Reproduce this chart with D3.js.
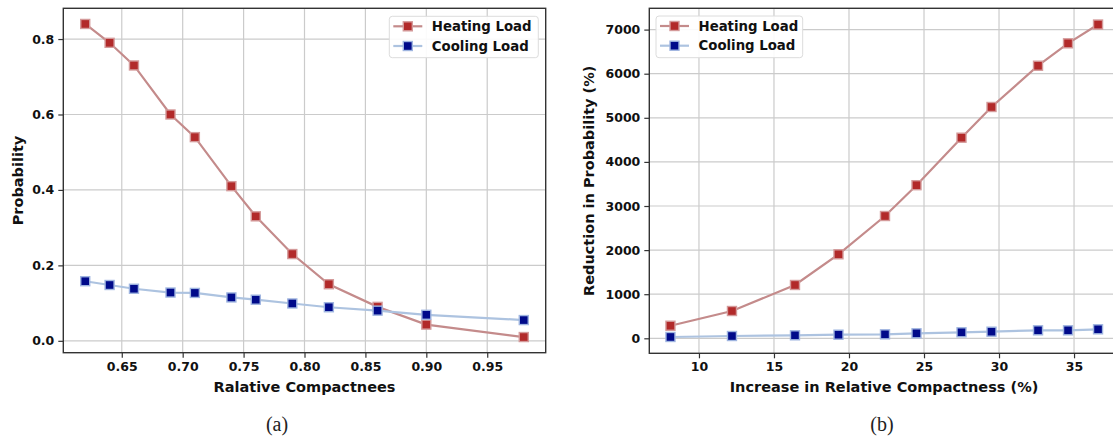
<!DOCTYPE html>
<html>
<head>
<meta charset="utf-8">
<script src="https://cdn.jsdelivr.net/npm/d3@7"></script>
<style>
  html, body { margin: 0; padding: 0; background: #fff; }
  svg { display: block; }
  text { font-family: "DejaVu Sans", sans-serif; fill: #111; }
  text.caption { font-family: "Liberation Serif", "DejaVu Serif", serif; fill: #222; }
</style>
</head>
<body>
<svg id="chart" width="1113" height="439"></svg>
<script>
// ---------- Data ----------
// Panel (a)
const compactness = [0.62, 0.64, 0.66, 0.69, 0.71, 0.74, 0.76, 0.79, 0.82, 0.86, 0.90, 0.98];
const heatingProb = [0.84, 0.79, 0.73, 0.60, 0.54, 0.41, 0.33, 0.23, 0.15, 0.09, 0.043, 0.01];
const coolingProb = [0.158, 0.148, 0.138, 0.128, 0.127, 0.115, 0.109, 0.099, 0.089, 0.080, 0.069, 0.055];
const aXTicks = [0.65, 0.70, 0.75, 0.80, 0.85, 0.90, 0.95];
const aYTicks = [0.0, 0.2, 0.4, 0.6, 0.8];

// Panel (b)
const increasePct = [8.1, 12.2, 16.4, 19.3, 22.4, 24.5, 27.5, 29.5, 32.6, 34.6, 36.6];
const heatingRed = [285, 619, 1209, 1905, 2773, 3472, 4549, 5245, 6181, 6689, 7115];
const coolingRed = [30, 52, 68, 82, 90, 113, 136, 150, 181, 181, 204];
const bXTicks = [10, 15, 20, 25, 30, 35];
const bYTicks = [0, 1000, 2000, 3000, 4000, 5000, 6000, 7000];

const seriesNames = ["Heating Load", "Cooling Load"];

// ---------- Styles ----------
const heatStyle = { line: "#c48b8b", face: "#b22a2a", edge: "#d49a9a" };
const coolStyle = { line: "#adc3e0", face: "#000a8a", edge: "#9fb5e0" };

const svg = d3.select("#chart");

function panel(opts) {
  const g = svg.append("g");
  const x = d3.scaleLinear().domain(opts.xDomain).range([opts.left, opts.right]);
  const y = d3.scaleLinear().domain(opts.yDomain).range([opts.bottom, opts.top]);

  const clipId = "clip" + opts.id;
  svg.append("clipPath").attr("id", clipId)
    .append("rect").attr("x", opts.left).attr("y", opts.top)
    .attr("width", opts.right - opts.left).attr("height", opts.bottom - opts.top);

  // grid
  const grid = g.append("g").attr("clip-path", `url(#${clipId})`);
  grid.selectAll("line.vx").data(opts.xTicks).join("line")
    .attr("x1", d => x(d)).attr("x2", d => x(d))
    .attr("y1", opts.top).attr("y2", opts.bottom)
    .attr("stroke", "#cbcbcb").attr("stroke-width", 1.2);
  grid.selectAll("line.hy").data(opts.yTicks).join("line")
    .attr("y1", d => y(d)).attr("y2", d => y(d))
    .attr("x1", opts.left).attr("x2", opts.right)
    .attr("stroke", "#cbcbcb").attr("stroke-width", 1.2);

  // axes
  const xAxis = d3.axisBottom(x).tickValues(opts.xTicks).tickFormat(opts.xFmt).tickSize(5).tickPadding(4);
  const yAxis = d3.axisLeft(y).tickValues(opts.yTicks).tickFormat(opts.yFmt).tickSize(5).tickPadding(4);
  const gx = g.append("g").attr("transform", `translate(0,${opts.bottom})`).call(xAxis);
  const gy = g.append("g").attr("transform", `translate(${opts.left},0)`).call(yAxis);
  [gx, gy].forEach(a => {
    a.select(".domain").remove();
    a.selectAll(".tick line").attr("stroke", "#333").attr("stroke-width", 1.2);
    a.selectAll(".tick text").style("font-family", "DejaVu Sans").attr("font-weight", "bold")
      .attr("font-size", "12.5px").style("fill", "#111");
  });

  // frame
  g.append("rect").attr("x", opts.left).attr("y", opts.top)
    .attr("width", opts.right - opts.left).attr("height", opts.bottom - opts.top)
    .attr("fill", "none").attr("stroke", "#333").attr("stroke-width", 1.4);

  // series
  const plot = g.append("g").attr("clip-path", `url(#${clipId})`);
  const line = d3.line().x(d => x(d[0])).y(d => y(d[1]));
  opts.series.forEach(s => {
    const pts = opts.xs.map((v, i) => [v, s.values[i]]);
    plot.append("path").datum(pts).attr("d", line)
      .attr("fill", "none").attr("stroke", s.style.line).attr("stroke-width", 2.2);
    plot.selectAll(null).data(pts).join("rect")
      .attr("x", d => x(d[0]) - 4.5).attr("y", d => y(d[1]) - 4.5)
      .attr("width", 9).attr("height", 9)
      .attr("fill", s.style.face).attr("stroke", s.style.edge).attr("stroke-width", 1.4);
  });

  // labels
  g.append("text").attr("x", opts.xLabelX).attr("y", opts.bottom + 39)
    .attr("text-anchor", "middle").attr("font-weight", "bold").attr("font-size", "14.5px")
    .text(opts.xLabel);
  g.append("text")
    .attr("transform", `translate(${opts.yLabelX},${(opts.top + opts.bottom) / 2}) rotate(-90)`)
    .attr("text-anchor", "middle").attr("font-weight", "bold").attr("font-size", "14.5px")
    .attr("dy", "0.35em")
    .text(opts.yLabel);

  // legend
  const L = opts.legend;
  g.append("rect").attr("x", L.x).attr("y", L.y).attr("width", L.w).attr("height", L.h)
    .attr("rx", 3).attr("fill", "#fff").attr("fill-opacity", 0.9)
    .attr("stroke", "#dcdcdc").attr("stroke-width", 1);
  opts.series.forEach((s, i) => {
    const cy = L.y + 10 + i * 19.7;
    g.append("line").attr("x1", L.x + 4).attr("x2", L.x + 33).attr("y1", cy).attr("y2", cy)
      .attr("stroke", s.style.line).attr("stroke-width", 2.2);
    g.append("rect").attr("x", L.x + 18.5 - 4.5).attr("y", cy - 4.5).attr("width", 9).attr("height", 9)
      .attr("fill", s.style.face).attr("stroke", s.style.edge).attr("stroke-width", 1.4);
    g.append("text").attr("x", L.x + 42.5).attr("y", cy).attr("dy", "0.36em")
      .attr("font-weight", "bold").attr("font-size", "13.3px").text(s.name);
  });

  // caption
  g.append("text").attr("class", "caption").attr("x", opts.captionX).attr("y", 431)
    .attr("text-anchor", "middle").attr("font-size", "20px").text(opts.caption);
}

panel({
  id: "a",
  left: 63.3, right: 545.7, top: 8.3, bottom: 352.7,
  xDomain: [0.602, 0.998], yDomain: [-0.0315, 0.8815],
  xTicks: aXTicks, yTicks: aYTicks,
  xFmt: d3.format(".2f"), yFmt: d3.format(".1f"),
  xs: compactness,
  series: [
    { name: seriesNames[0], values: heatingProb, style: heatStyle },
    { name: seriesNames[1], values: coolingProb, style: coolStyle }
  ],
  xLabel: "Ralative Compactnees", xLabelX: 304.5,
  yLabel: "Probability", yLabelX: 17.5,
  legend: { x: 389.3, y: 16.3, w: 149, h: 41.4 },
  caption: "(a)", captionX: 277
});

panel({
  id: "b",
  left: 649.3, right: 1121, top: 8.3, bottom: 353.3,
  xDomain: [6.69, 38.13], yDomain: [-340, 7483],
  xTicks: bXTicks, yTicks: bYTicks,
  xFmt: d3.format("d"), yFmt: d3.format("d"),
  xs: increasePct,
  series: [
    { name: seriesNames[0], values: heatingRed, style: heatStyle },
    { name: seriesNames[1], values: coolingRed, style: coolStyle }
  ],
  xLabel: "Increase in Relative Compactness (%)", xLabelX: 884,
  yLabel: "Reduction in Probability (%)", yLabelX: 589,
  legend: { x: 656, y: 16, w: 146.7, h: 41.7 },
  caption: "(b)", captionX: 882
});
</script>
</body>
</html>
